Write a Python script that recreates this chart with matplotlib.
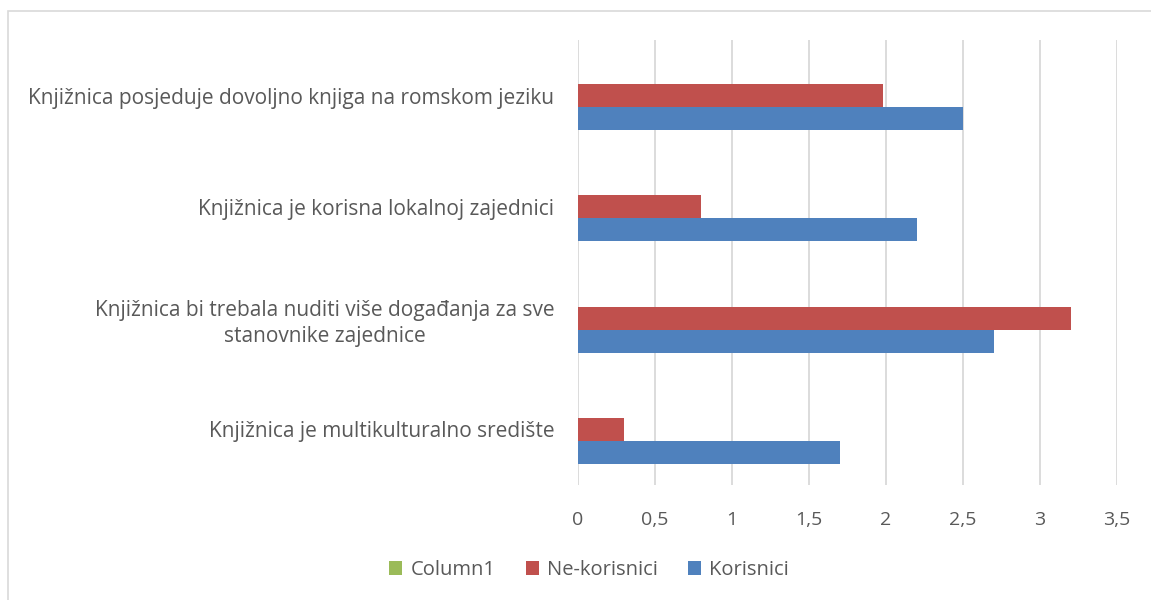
import numpy as np
import matplotlib.pyplot as plt
from matplotlib.patches import Rectangle

# Data (top to bottom as shown)
categories = [
    "Knjižnica posjeduje dovoljno knjiga na romskom jeziku",
    "Knjižnica je korisna lokalnoj zajednici",
    "Knjižnica bi trebala nuditi više događanja za sve\nstanovnike zajednice",
    "Knjižnica je multikulturalno središte",
]
column1 = [0, 0, 0, 0]
ne_korisnici = [1.98, 0.8, 3.2, 0.3]
korisnici = [2.5, 2.2, 2.7, 1.7]
x_ticks = [0, 0.5, 1, 1.5, 2, 2.5, 3, 3.5]

plt.rcParams['font.family'] = ['Open Sans', 'DejaVu Sans']
text_color = '#595959'
grid_color = '#D9D9D9'

fig = plt.figure(figsize=(11.51, 6.0), dpi=100)
ax = fig.add_axes([578 / 1151, 1 - 485 / 600, (1117 - 578) / 1151, (485 - 40) / 600])

y = np.arange(len(categories))
h = 0.207
ax.barh(y - h, column1, height=h, color='#9BBB59', label='Column1', linewidth=0)
ax.barh(y, ne_korisnici, height=h, color='#C0504D', label='Ne-korisnici', linewidth=0)
ax.barh(y + h, korisnici, height=h, color='#4F81BD', label='Korisnici', linewidth=0)

ax.set_ylim(len(categories) - 0.5, -0.5)
ax.set_xlim(0, 3.5)
ax.set_xticks(x_ticks)
ax.set_xticklabels([str(t).replace('.', ',') if t % 1 else str(int(t)) for t in x_ticks])
ax.set_yticks(y)
ax.set_yticklabels(categories, multialignment='center', linespacing=1.35)

ax.grid(axis='x', color=grid_color, linewidth=1.3)
ax.set_axisbelow(True)
for s in ax.spines.values():
    s.set_visible(False)
ax.tick_params(axis='x', length=0, pad=19, labelsize=14, labelcolor=text_color)
ax.tick_params(axis='y', length=0, pad=17, labelsize=15, labelcolor=text_color)

# chart frame
fig.patches.append(Rectangle((8 / 1151, -0.1), 1.2, 1.1 - 11 / 600,
                             transform=fig.transFigure, fill=False,
                             edgecolor=grid_color, linewidth=1.2))

leg = fig.legend(loc='center', bbox_to_anchor=(589 / 1151, 1 - 570 / 600),
                 ncol=3, frameon=False, fontsize=14.5, labelcolor=text_color,
                 handlelength=0.65, handleheight=0.65, handletextpad=0.4,
                 columnspacing=1.5)

fig.savefig('out.png', dpi=100, facecolor='white')
